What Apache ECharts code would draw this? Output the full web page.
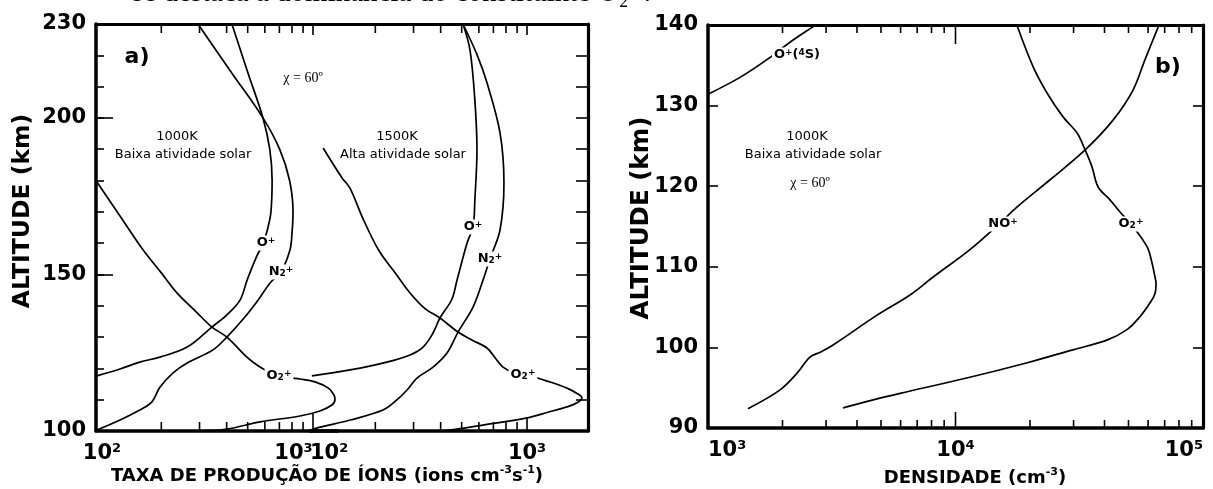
<!DOCTYPE html>
<html><head><meta charset="utf-8">
<script src="https://cdn.jsdelivr.net/npm/echarts@6/dist/echarts.min.js"></script>
<style>html,body{margin:0;padding:0;background:#fff}#c{width:1213px;height:489px}</style>
</head><body><div id="c"></div>
<script>
// ---------- Panel a) ion production rate [ions cm^-3 s^-1, altitude km] ----------
// 1000 K, low solar activity (first decade 10^2..10^3)
const A_O2P_1000 = [[101,179.5],[129,168.7],[165,157.8],[200,150.5],[236,144.1],[290,138.0],[342,133.2],[401,130.0],[496,123.6],[552,121.1],[620,119.0],[697,117.6],[783,117.0],[871,116.6],[1021,115.7],[1178,113.7],[1250,111.5],[1262,110.0],[1222,108.3],[1077,106.4],[871,104.8],[570,102.9],[401,100.6],[300,100.0]];
const A_OP_1000 = [[423,230],[502,214.3],[588,200],[632,190],[648,180],[640,170],[620,165],[590,160],[552,156],[497,148.2],[461,141.8],[400,137],[342,133.2],[263,126.8],[197,123.6],[159,122],[129,119.8],[101,117.6]];
const A_N2P_1000 = [[295,230],[423,214.3],[588,200],[704,189.8],[780,180],[809,170],[800,163],[783,157.8],[712,150.8],[634,147.3],[558,141.8],[480,136],[401,130],[346,125.9],[263,121.7],[226,118.5],[197,114],[181,109.3],[159,106.7],[129,103.5],[101,100.3]];
// 1500 K, high solar activity (second decade 10^2..10^3)
const A_O2P_1500 = [[115,190.4],[140,181],[153,177.5],[175,168],[207,157.8],[250,150],[289,144.1],[340,139],[397,136.1],[481,131.6],[560,129],[654,126.5],[720,123],[775,120.4],[880,118.5],[1066,117.3],[1300,115.5],[1528,113.7],[1700,112],[1792,110.6],[1700,109],[1528,107.7],[1250,106],[1000,104.2],[627,101.9],[442,100.3],[400,100]];
const A_OP_1500 = [[507,230],[546,221.7],[575,205.7],[588,189.8],[575,173.8],[564,165.2],[529,160],[476,148.2],[450,142],[397,136.1],[369,131.3],[332,126.8],[289,124.3],[226,122],[153,119.5],[102,117.6]];
const A_N2P_1500 = [[507,230],[590,220],[654,211.2],[751,195.2],[783,179.2],[751,164.2],[675,155],[627,148.2],[564,139.6],[481,131.6],[428,124.9],[369,120.4],[311,116.9],[280,113.1],[252,110],[217,106.7],[153,103.5],[108,101],[100,100.2]];

// ---------- Panel b) density [cm^-3, altitude km] ----------
const B_OP4S = [[1000,131.4],[1347,133.5],[1730,135.7],[2200,138.1],[2660,139.8],[2720,140]];
const B_NOP = [[1450,92.4],[1950,94.7],[2290,96.8],[2580,98.8],[2840,99.4],[3200,100.3],[4820,104],[6550,106.5],[8100,108.7],[11400,112.1],[15100,115.4],[17700,117.4],[24100,120.8],[33400,124.5],[43300,128.2],[52100,131.9],[58300,135.7],[65200,139.4],[66500,140]];
const B_O2P = [[17700,140],[20600,134.8],[23400,131.6],[27200,128.6],[31000,126.6],[33400,124.5],[35600,122.4],[37700,119.9],[42100,118.3],[46200,116.8],[51200,115.3],[59400,112.5],[62200,110.5],[64000,108.7],[64600,108],[64000,106.7],[61000,105.5],[55600,103.8],[49300,102.2],[40900,100.9],[29800,99.7],[19500,98.1],[11100,96.2],[5970,94.3],[4950,93.7],[3510,92.5]];

// ---------- axis ranges / tick values ----------
const A_Y_RANGE = [100, 230];
const A_Y_LABELS = [100, 150, 200, 230];
const A_X1_RANGE = [100, 1300];   // first decade axis (overlaps start of second one)
const A_X2_RANGE = [100, 1910];
const B_X_RANGE = [1000, 100000];
const B_Y_RANGE = [90, 140];
const A_MINOR = [200,300,400,500,600,700,800,900];
const B_MINOR = [2000,3000,4000,5000,6000,7000,8000,9000,20000,30000,40000,50000,60000,70000,80000,90000];

const SANS = "'DejaVu Sans',sans-serif";
const SERIF = "'Liberation Serif','DejaVu Serif',serif";

const chart = echarts.init(document.getElementById('c'), null, {renderer:'canvas'});

const supRich = {
  b:{fontFamily:SANS, fontWeight:'bold', fontSize:21, lineHeight:24, color:'#000'},
  s:{fontFamily:SANS, fontWeight:'bold', fontSize:13, lineHeight:13, verticalAlign:'top', color:'#000'},
  g:{width:39, fontSize:13},
  h:{width:12, fontSize:13}
};
function powLabel(v){
  const e = Math.log10(v), r = Math.round(e);
  if (Math.abs(e - r) > 1e-6) return '';
  return '{b|10}{s|' + r + '}';
}
// first decade: the 10^3 label sits left of its tick, 10^2 slightly right
function powLabelA1(v){
  const s = powLabel(v);
  if (!s) return s;
  return Math.round(Math.log10(v)) === 3 ? s + '{g| }' : '{h| }' + s;
}

const AX_W = 3.5;
function xLabel(extra){
  return Object.assign({show:true, formatter:powLabel, rich:supRich, margin:11, showMinLabel:true, showMaxLabel:true}, extra||{});
}
function xAxisBase(grid, range, pos, label){
  return {
    type:'log', gridIndex:grid, min:range[0], max:range[1], position:pos, logBase:10,
    axisLine:{show:true, onZero:false, lineStyle:{color:'#000', width: pos==='top'?3:AX_W}},
    axisTick:{show:false}, splitLine:{show:false}, minorTick:{show:false},
    axisLabel: label || {show:false}
  };
}

function yAxisBase(grid, range, pos, interval, tickLen, showLine, labelFn){
  return {
    type:'value', gridIndex:grid, min:range[0], max:range[1], interval:interval, position:pos,
    axisLine:{show:showLine, onZero:false, lineStyle:{color:'#000', width: pos==='right'?3.2:AX_W}},
    axisTick:{show:true, inside:true, length:tickLen, lineStyle:{color:'#000', width:1.6}},
    splitLine:{show:false},
    axisLabel: labelFn ? {show:true, formatter:labelFn, margin:10, color:'#000', fontFamily:SANS, fontWeight:'bold', fontSize:21} : {show:false}
  };
}

function curve(xi, yi, data){
  return {type:'line', xAxisIndex:xi, yAxisIndex:yi, data:data, smooth:0.35, showSymbol:false,
    symbol:'none', clip:false, lineStyle:{color:'#000', width:1.7}, z:3, silent:true};
}

// x-axis tick marks drawn as thin rect symbols placed through the axis scale
function ticks(xi, yi, values, yRef, edge, len){
  return {type:'scatter', xAxisIndex:xi, yAxisIndex:yi, silent:true, z:5, clip:false,
    data: values.map(v => [v, yRef]),
    symbol:'rect', symbolSize:[1.6, len], symbolOffset:[0, edge === 'bottom' ? -len/2 : len/2],
    itemStyle:{color:'#000', opacity:1}, emphasis:{disabled:true}};
}

function txt(x, y, text, opt){
  opt = opt || {};
  return {type:'text', x:x, y:y, z:100, rotation: opt.rot || 0,
    style:Object.assign({text:text, fill:'#000', align:opt.align||'center', verticalAlign:opt.va||'middle',
      fontFamily:opt.family||SANS, fontWeight:opt.weight||'normal', fontSize:opt.size||13}, opt.style||{})};
}
const ionRich = {
  m:{fontFamily:SANS, fontWeight:'bold', fontSize:13, color:'#000'},
  p:{fontFamily:SANS, fontWeight:'bold', fontSize:9, verticalAlign:'top', color:'#000'},
  s:{fontFamily:SANS, fontWeight:'bold', fontSize:9, verticalAlign:'bottom', color:'#000'}
};
function ion(x, y, text){
  return txt(x, y, text, {style:{rich:ionRich, backgroundColor:'#fff', padding:[1,2]}});
}
const titleRich = {
  t:{fontFamily:SANS, fontWeight:'bold', fontSize:18, color:'#000', lineHeight:22},
  s:{fontFamily:SANS, fontWeight:'bold', fontSize:11, verticalAlign:'top', color:'#000', lineHeight:11}
};

const A1_W = 217 * Math.log10(A_X1_RANGE[1] / A_X1_RANGE[0]);

const option = {
  animation:false,
  backgroundColor:'#fff',
  grid:[
    {left:96, top:24, width:A1_W, height:407, outerBoundsMode:'none', containLabel:false},
    {left:310, top:24, width:278, height:407, outerBoundsMode:'none', containLabel:false},
    {left:708, top:25, width:495, height:403, outerBoundsMode:'none', containLabel:false}
  ],
  xAxis:[
    xAxisBase(0, A_X1_RANGE, 'bottom', xLabel({formatter:powLabelA1, showMaxLabel:false})),
    xAxisBase(0, A_X1_RANGE, 'top', null),
    xAxisBase(1, A_X2_RANGE, 'bottom', xLabel({showMaxLabel:false, alignMinLabel:'left'})),
    xAxisBase(1, A_X2_RANGE, 'top', null),
    xAxisBase(2, B_X_RANGE, 'bottom', xLabel({alignMinLabel:'left', alignMaxLabel:'right'})),
    xAxisBase(2, B_X_RANGE, 'top', null)
  ],
  yAxis:[
    yAxisBase(0, A_Y_RANGE, 'left', 10, 8, true, v => A_Y_LABELS.indexOf(v) >= 0 ? String(v) : ''),
    yAxisBase(0, A_Y_RANGE, 'left', 50, 17, false, null),
    yAxisBase(1, A_Y_RANGE, 'right', 10, 12, true, null),
    yAxisBase(2, B_Y_RANGE, 'left', 10, 10, true, v => String(v)),
    yAxisBase(2, B_Y_RANGE, 'right', 10, 10, true, null)
  ],
  series:[
    curve(0, 0, A_O2P_1000),
    curve(0, 0, A_OP_1000),
    curve(0, 0, A_N2P_1000),
    curve(2, 2, A_O2P_1500),
    curve(2, 2, A_OP_1500),
    curve(2, 2, A_N2P_1500),
    curve(4, 3, B_OP4S),
    curve(4, 3, B_NOP),
    curve(4, 3, B_O2P),
    // ticks panel a
    ticks(0, 0, A_MINOR, A_Y_RANGE[0], 'bottom', 9),
    ticks(0, 0, A_MINOR, A_Y_RANGE[1], 'top', 9),
    ticks(0, 0, [1000], A_Y_RANGE[0], 'bottom', 17),
    ticks(0, 0, [1000], A_Y_RANGE[1], 'top', 11),
    ticks(2, 2, A_MINOR, A_Y_RANGE[0], 'bottom', 9),
    ticks(2, 2, A_MINOR, A_Y_RANGE[1], 'top', 9),
    ticks(2, 2, [1000], A_Y_RANGE[0], 'bottom', 14),
    ticks(2, 2, [1000], A_Y_RANGE[1], 'top', 11),
    // ticks panel b
    ticks(4, 3, B_MINOR, B_Y_RANGE[0], 'bottom', 8),
    ticks(4, 3, B_MINOR, B_Y_RANGE[1], 'top', 8),
    ticks(4, 3, [10000], B_Y_RANGE[0], 'bottom', 16),
    ticks(4, 3, [10000], B_Y_RANGE[1], 'top', 19)
  ],
  graphic:[
    txt(132, 8, 'se destaca a dominância do constituinte O₂⁺.', {align:'left', va:'bottom', family:SERIF, size:29}),
    // panel a
    txt(137, 57, 'a)', {weight:'bold', size:22}),
    txt(303, 78, 'χ = 60º', {family:SERIF, size:14}),
    txt(177, 137, '1000K'),
    txt(183, 155, 'Baixa atividade solar'),
    txt(397, 137, '1500K'),
    txt(403, 155, 'Alta atividade solar'),
    ion(266, 243, '{m|O}{p|+}'),
    ion(281, 272, '{m|N}{s|2}{p|+}'),
    ion(279, 376, '{m|O}{s|2}{p|+}'),
    ion(473, 227, '{m|O}{p|+}'),
    ion(490, 259, '{m|N}{s|2}{p|+}'),
    ion(523, 375, '{m|O}{s|2}{p|+}'),
    txt(23, 211, 'ALTITUDE (km)', {weight:'bold', size:23.5, rot:Math.PI/2}),
    txt(327, 476, '{t|TAXA DE PRODUÇÃO DE ÍONS (ions cm}{s|-3}{t|s}{s|-1}{t|)}', {style:{rich:titleRich}}),
    // panel b
    txt(1168, 67, 'b)', {weight:'bold', size:22}),
    txt(807, 137, '1000K'),
    txt(813, 155, 'Baixa atividade solar'),
    txt(810, 183, 'χ = 60º', {family:SERIF, size:14}),
    ion(797, 55, '{m|O}{p|+}{m|(}{p|4}{m|S)}'),
    ion(1003, 224, '{m|NO}{p|+}'),
    ion(1131, 224, '{m|O}{s|2}{p|+}'),
    txt(642, 218, 'ALTITUDE (km)', {weight:'bold', size:24.5, rot:Math.PI/2}),
    txt(975, 478, '{t|DENSIDADE (cm}{s|-3}{t|)}', {style:{rich:titleRich}})
  ]
};
chart.setOption(option);
</script></body></html>
